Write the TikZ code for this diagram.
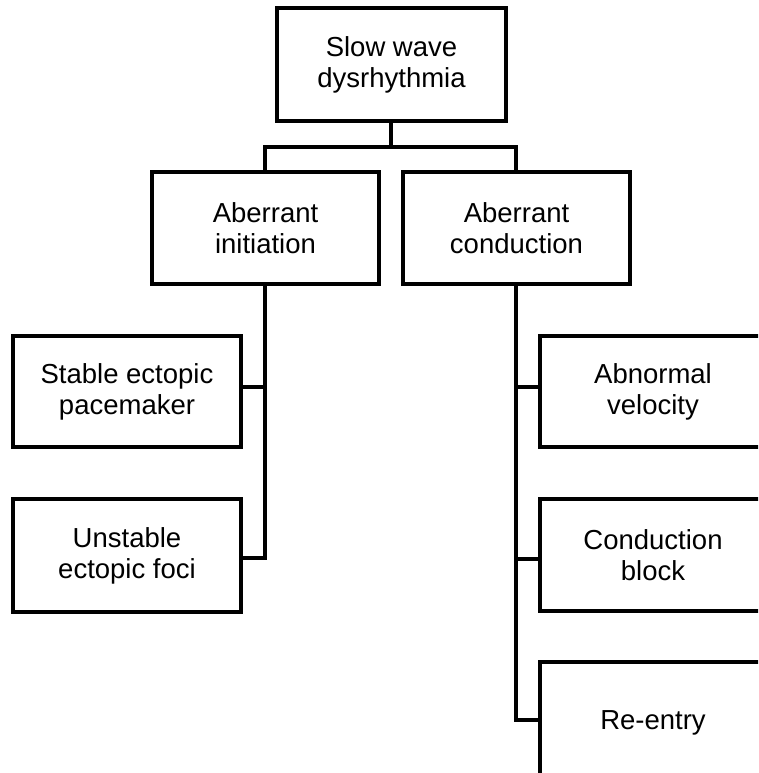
\documentclass[tikz,border=0pt]{standalone}
\usepackage{fontspec}
\setmainfont{Liberation Sans}
\begin{document}
\begin{tikzpicture}[x=1pt,y=-1pt,
  box/.style={draw=black,line width=4.5pt,rectangle,inner sep=0pt,align=center,
    font=\fontsize{27.5}{31}\selectfont},
  conn/.style={draw=black,line width=4.5pt}]
\useasboundingbox (0,0) rectangle (758,773);
\clip (0,0) rectangle (758,773);
\fill[white] (0,0) rectangle (758,773);
\node[box,minimum width=229pt,minimum height=113pt] (top) at (391.5,64.5) {Slow wave\\dysrhythmia};
\node[box,minimum width=227pt,minimum height=112pt] (ai) at (265.5,228) {Aberrant\\initiation};
\node[box,minimum width=227pt,minimum height=112pt] (ac) at (516.5,228) {Aberrant\\conduction};
\node[box,minimum width=228pt,minimum height=111pt] (sep) at (127,391.5) {Stable ectopic\\pacemaker};
\node[box,minimum width=228pt,minimum height=113pt] (uef) at (127,555.5) {Unstable\\ectopic foci};
\node[box,minimum width=226pt,minimum height=111pt] (av) at (653,391.5) {Abnormal\\velocity};
\node[box,minimum width=226pt,minimum height=112pt] (cb) at (653,555) {Conduction\\block};
\node[box,minimum width=226pt,minimum height=122pt] (re) at (653,723) {Re-entry};
\coordinate (bar) at (391,147);
\coordinate (jl1) at (265,387);
\coordinate (jl2) at (265,558);
\coordinate (jr1) at (516,387);
\coordinate (jr2) at (516,559);
\coordinate (jr3) at (516,720);
\draw[conn] (top.south -| bar) -- (bar);
\draw[conn] (ai.north -| jl1) -- (jl1 |- bar) -- (jr1 |- bar) -- (ac.north -| jr1);
\draw[conn] (ai.south -| jl1) -- (jl2) -- (uef.east |- jl2);
\draw[conn] (jl1) -- (sep.east |- jl1);
\draw[conn] (ac.south -| jr1) -- (jr3) -- (re.west |- jr3);
\draw[conn] (jr1) -- (av.west |- jr1);
\draw[conn] (jr2) -- (cb.west |- jr2);
\end{tikzpicture}
\end{document}
